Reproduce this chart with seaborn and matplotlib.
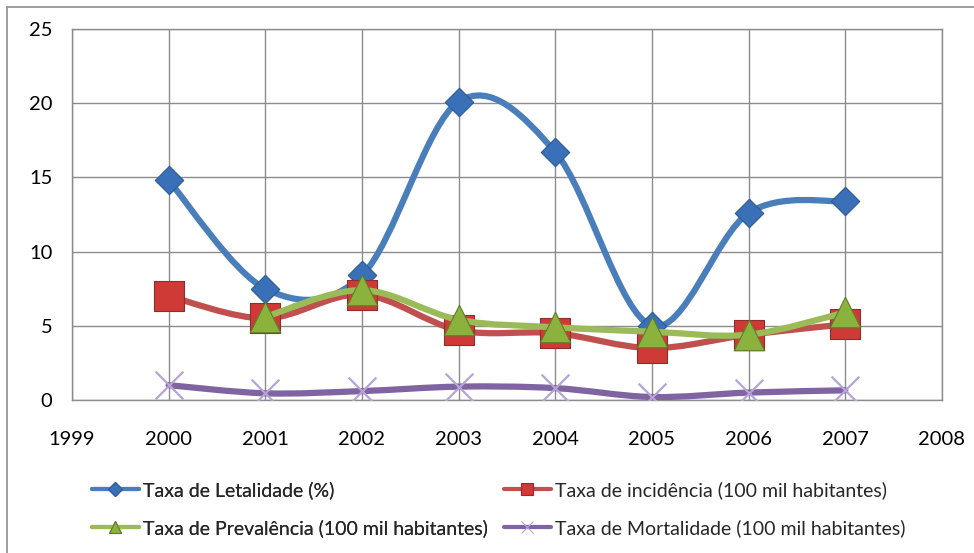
import numpy as np
import pandas as pd
import matplotlib
matplotlib.use("Agg")
import matplotlib.pyplot as plt
import seaborn as sns
from matplotlib.path import Path
from matplotlib.patches import PathPatch, Rectangle
from matplotlib.lines import Line2D

# Values
years = [2000, 2001, 2002, 2003, 2004, 2005, 2006, 2007]
letalidade = [14.8, 7.5, 8.4, 20.1, 16.7, 5.0, 12.6, 13.4]
incidencia = [7.0, 5.5, 7.1, 4.7, 4.5, 3.5, 4.4, 5.1]
prevalencia = [np.nan, 5.6, 7.4, 5.4, 4.9, 4.6, 4.4, 5.9]
mortalidade = [1.0, 0.45, 0.6, 0.9, 0.8, 0.2, 0.5, 0.65]

labels = [
    "Taxa de Letalidade (%)",
    "Taxa de incidência (100 mil habitantes)",
    "Taxa de Prevalência (100 mil habitantes)",
    "Taxa de Mortalidade (100 mil habitantes)",
]
x_ticks = list(range(1999, 2009))
y_ticks = [0, 5, 10, 15, 20, 25]


# Excel-like smoothed line: Catmull-Rom segments turned into cubic Beziers
def smooth_path(xs, ys):
    pts = np.array([(x, y) for x, y in zip(xs, ys) if not np.isnan(y)], dtype=float)
    verts = [pts[0]]
    codes = [Path.MOVETO]
    n = len(pts)
    for i in range(n - 1):
        p0 = pts[i - 1] if i > 0 else pts[i]
        p1 = pts[i]
        p2 = pts[i + 1]
        p3 = pts[i + 2] if i + 2 < n else pts[i + 1]
        c1 = p1 + (p2 - p0) / 6.0
        c2 = p2 - (p3 - p1) / 6.0
        verts += [c1, c2, p2]
        codes += [Path.CURVE4] * 3
    return Path(verts, codes)


sns.set_theme(style="white")
plt.rcParams["font.family"] = ["Lato", "DejaVu Sans"]

fig = plt.figure(figsize=(9.74, 5.53), dpi=100)
ax = fig.add_axes([0.0739, 0.2767, 0.8932, 0.6709])

# outer chart frame
fig.patches.append(Rectangle((7 / 974, -0.1), 1.2, (553 - 7) / 553 + 0.1,
                             transform=fig.transFigure, fill=False,
                             edgecolor="#8c8c8c", lw=1.2))

series = [
    (letalidade, "#4a7ebb", "D", 14.5, "#3a70b8", "#2c5a94"),
    (incidencia, "#c0504d", "s", 21, "#cf3a36", "#8e2d2b"),
    (prevalencia, "#9bbb59", "^", 22, "#8ab23c", "#5f7d2a"),
    (mortalidade, "#8064a2", "x", 20, "#b7a4d6", "#b7a4d6"),
]

for z, (vals, lc, mk, ms, fc, ec) in enumerate(series):
    patch = PathPatch(smooth_path(years, vals), transform=ax.transData,
                      fill=False, edgecolor=lc, lw=4.5, capstyle="round",
                      joinstyle="round", zorder=3 + 2 * z)
    ax.add_patch(patch)
    df = pd.DataFrame({"ano": years, "valor": vals}).dropna()
    if mk == "x":
        sns.scatterplot(data=df, x="ano", y="valor", marker="x", s=ms ** 2,
                        color=fc, linewidth=1.6, ax=ax, zorder=4 + 2 * z)
    else:
        sns.scatterplot(data=df, x="ano", y="valor", marker=mk, s=ms ** 2,
                        color=fc, edgecolor=ec, linewidth=0.8, ax=ax,
                        zorder=4 + 2 * z)

ax.set_xlim(1999, 2008)
ax.set_ylim(0, 25)
ax.set_xticks(x_ticks)
ax.set_yticks(y_ticks)
ax.set_xlabel("")
ax.set_ylabel("")
ax.grid(True, color="#8c8c8c", lw=1)
ax.set_axisbelow(True)
for sp in ax.spines.values():
    sp.set_visible(True)
    sp.set_color("#8c8c8c")
    sp.set_linewidth(1)
ax.tick_params(axis="both", length=0, labelsize=14.5, colors="black")
ax.tick_params(axis="x", pad=22)
ax.tick_params(axis="y", pad=14)

handles = []
for vals, lc, mk, ms, fc, ec in series:
    handles.append(Line2D([], [], color=lc, lw=3, marker=mk,
                          markersize=9 if mk != "D" else 7,
                          markerfacecolor=fc, markeredgecolor=ec,
                          markeredgewidth=0.8))

# two legend columns placed separately, as in the reference
leg_kw = dict(loc="upper left", frameon=False, fontsize=14, handlelength=2.4,
              handletextpad=0.2, labelspacing=1.05, borderaxespad=0,
              borderpad=0)
leg1 = fig.legend([handles[0], handles[2]], [labels[0], labels[2]],
                  bbox_to_anchor=(92 / 974, 1 - 481 / 553), **leg_kw)
fig.add_artist(leg1)
fig.legend([handles[1], handles[3]], [labels[1], labels[3]],
           bbox_to_anchor=(504 / 974, 1 - 481 / 553), **leg_kw)

fig.savefig("out.png", dpi=100)
